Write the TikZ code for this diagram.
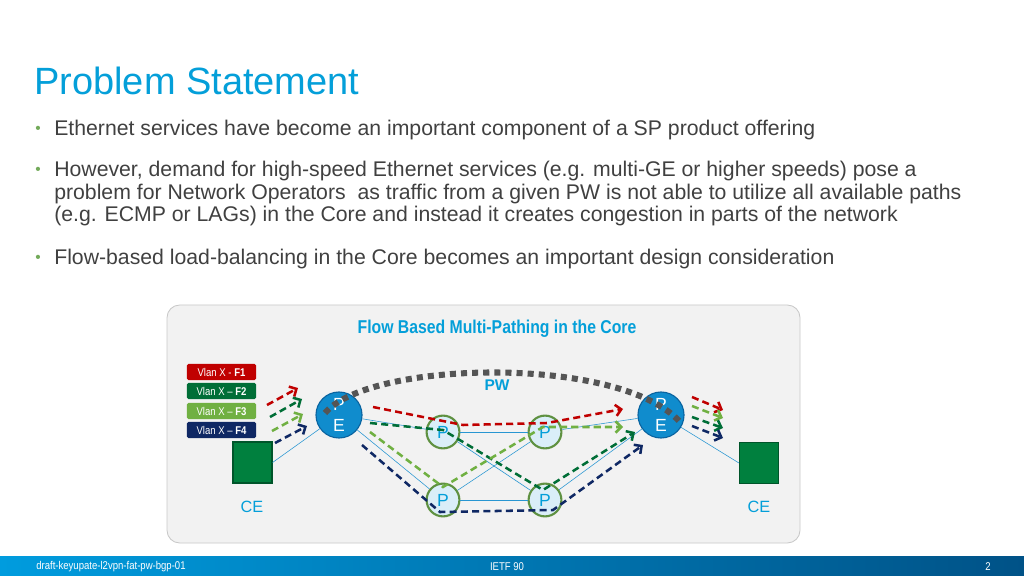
\documentclass[tikz,border=0pt]{standalone}
\usepackage{fontspec}
\setmainfont{Liberation Sans}
\newfontfamily\narrowfont[FakeStretch=0.85]{Liberation Sans}
\usetikzlibrary{arrows.meta}

\definecolor{ciscoblue}{RGB}{4,159,217}
\definecolor{textgray}{RGB}{64,64,64}
\definecolor{bulletgreen}{RGB}{115,170,90}
\definecolor{panelgray}{RGB}{242,242,242}
\definecolor{panelborder}{RGB}{200,200,200}
\definecolor{linkblue}{RGB}{40,150,210}
\definecolor{peblue}{RGB}{16,140,205}
\definecolor{peborder}{RGB}{10,100,160}
\definecolor{plight}{RGB}{218,238,248}
\definecolor{pgreen}{RGB}{95,145,65}
\definecolor{cegreen}{RGB}{0,128,62}
\definecolor{ceborder}{RGB}{0,85,42}
\definecolor{fred}{RGB}{192,0,0}
\definecolor{fdkgreen}{RGB}{0,110,55}
\definecolor{fltgreen}{RGB}{112,176,66}
\definecolor{fnavy}{RGB}{15,40,100}
\definecolor{pwgray}{RGB}{85,85,85}
\definecolor{footleft}{RGB}{0,156,222}
\definecolor{footright}{RGB}{0,82,135}

\begin{document}
\begin{tikzpicture}[x = 0.025cm, y = -0.025cm]
	% Page size, in pixels of the slide
	\useasboundingbox (0,0) rectangle (1024,576);

	% Styles of the slide
	\tikzset{
		bullettext/.style = {anchor = base west, inner sep = 0, text = textgray,
			font = \fontsize{15.1}{15.1}\selectfont},
		bulletdot/.style = {inner sep = 0, text = bulletgreen, font = \fontsize{11}{11}\selectfont},
		pe/.style = {circle, fill = peblue, draw = peborder, line width = 0.8pt, minimum size = 1.15cm,
			inner sep = 0, text = white, align = center, font = \fontsize{12.5}{15}\selectfont},
		pnode/.style = {circle, fill = plight, draw = pgreen, line width = 1.5pt, minimum size = 0.82cm,
			inner sep = 0, text = ciscoblue, font = \fontsize{12.5}{12.5}\selectfont},
		ce/.style = {rectangle, fill = cegreen, draw = ceborder, line width = 0.8pt,
			minimum width = 0.975cm, minimum height = 1.025cm},
		celabel/.style = {text = ciscoblue, font = \fontsize{11.6}{11.6}\selectfont},
		legend/.style = {rectangle, rounded corners = 1pt, minimum width = 1.725cm, minimum height = 0.4cm,
			inner sep = 0, text = white, font = \narrowfont\fontsize{8}{8}\selectfont},
		link/.style = {linkblue, line width = 0.4pt},
		flow/.style = {line width = 1.8pt, dash pattern = on 5pt off 3pt,
			-{Straight Barb[length = 4pt, width = 8pt]}},
		pwline/.style = {pwgray, line width = 4.3pt, dash pattern = on 4.3pt off 3.6pt},
		foot/.style = {inner sep = 0, text = white, font = \narrowfont\fontsize{8}{8}\selectfont}
	}

	% Title and bullets
	\node[anchor = base west, inner sep = 0, text = ciscoblue, font = \fontsize{27}{27}\selectfont]
		(title) at (34,95) {Problem Statement};

	\node[bulletdot] (b1) at (38,130) {•};
	\node[bullettext] (t1) at (54,136) {Ethernet services have become an important component of a SP product offering};
	\node[bulletdot] (b2) at (38,171) {•};
	\node[bullettext] (t2a) at (54,177) {However, demand for high-speed Ethernet services (e.g. multi-GE or higher speeds) pose a};
	\node[bullettext] (t2b) at (54,199.5) {problem for Network Operators \ as traffic from a given PW is not able to utilize all available paths};
	\node[bullettext] (t2c) at (54,222) {(e.g. ECMP or LAGs) in the Core and instead it creates congestion in parts of the network};
	\node[bulletdot] (b3) at (38,259) {•};
	\node[bullettext] (t3) at (54,265) {Flow-based load-balancing in the Core becomes an important design consideration};

	% Grey panel
	\draw[fill = panelgray, draw = panelborder, line width = 0.6pt, rounded corners = 9pt] (167,305) rectangle (800,543);
	\node[text = ciscoblue, font = \narrowfont\bfseries\fontsize{13.2}{13.2}\selectfont] (ptitle) at (497,329)
		{Flow Based Multi-Pathing in the Core};

	% Legend of the flows
	\node[legend, fill = fred] (leg1) at (221.5,372) {Vlan X - \textbf{F1}};
	\node[legend, fill = fdkgreen] (leg2) at (221.5,391) {Vlan X – \textbf{F2}};
	\node[legend, fill = fltgreen] (leg3) at (221.5,411) {Vlan X – \textbf{F3}};
	\node[legend, fill = fnavy] (leg4) at (221.5,430) {Vlan X – \textbf{F4}};

	% Routers
	\node[ce] (cel) at (252.5,462.5) {};
	\node[ce] (cer) at (759,463) {};
	\node[celabel] (cellbl) at (252,507) {CE};
	\node[celabel] (cerlbl) at (759,507) {CE};

	\node[pe] (pel) at (339,415) {P\\E};
	\node[pe] (per) at (661,415) {P\\E};

	\node[pnode] (p1) at (443,432) {P};
	\node[pnode] (p2) at (545,432) {P};
	\node[pnode] (p3) at (443,500) {P};
	\node[pnode] (p4) at (545,500) {P};

	% Links
	\draw[link] (cel.east) -- (pel);
	\draw[link] (pel) -- (p1);
	\draw[link] (pel) -- (p3);
	\draw[link] (p1) -- (p2);
	\draw[link] (p3) -- (p4);
	\draw[link] (p1) -- (p4);
	\draw[link] (p3) -- (p2);
	\draw[link] (p2) -- (per);
	\draw[link] (p4) -- (per);
	\draw[link] (per) -- (cer.west);

	% Flows entering from the left CE
	\draw[flow, fred] ([shift = {(-72,-10)}]pel.center) -- ([shift = {(-41,-27)}]pel.center);
	\draw[flow, fdkgreen] ([shift = {(-69,2)}]pel.center) -- ([shift = {(-37,-16)}]pel.center);
	\draw[flow, fltgreen] ([shift = {(-67,16)}]pel.center) -- ([shift = {(-36,-1)}]pel.center);
	\draw[flow, fnavy] ([shift = {(-64,28)}]pel.center) -- ([shift = {(-32,11)}]pel.center);

	% Flows through the core
	\draw[flow, fred] ([shift = {(34,-8)}]pel.center) -- ([shift = {(20,-7)}]p1.center)
		-- ([shift = {(2,-9)}]p2.center) -- ([shift = {(-38,-6)}]per.center);
	\draw[flow, fdkgreen] ([shift = {(31,8)}]pel.center) -- ([shift = {(0,-2)}]p1.center)
		-- ([shift = {(-2,-10)}]p4.center) -- ([shift = {(-26,17)}]per.center);
	\draw[flow, fltgreen] ([shift = {(31,17)}]pel.center) -- ([shift = {(0,-13)}]p3.center)
		-- ([shift = {(-2,-5)}]p2.center) -- ([shift = {(-38,12)}]per.center);
	\draw[flow, fnavy] ([shift = {(23,30)}]pel.center) -- ([shift = {(-3,12)}]p3.center)
		-- ([shift = {(8,10)}]p4.center) -- ([shift = {(-18,30)}]per.center);

	% Flows leaving to the right CE
	\draw[flow, fred] ([shift = {(31,-18)}]per.center) -- ([shift = {(62,-5)}]per.center);
	\draw[flow, fltgreen] ([shift = {(31,-9)}]per.center) -- ([shift = {(62,3)}]per.center);
	\draw[flow, fdkgreen] ([shift = {(31,2)}]per.center) -- ([shift = {(62,13)}]per.center);
	\draw[flow, fnavy] ([shift = {(31,11)}]per.center) -- ([shift = {(62,23)}]per.center);

	% Pseudowire between the PEs
	\draw[pwline] ([shift = {(-14,-2)}]pel.center) .. controls (370,360) and (620,355)
		.. ([shift = {(19,7)}]per.center);
	\node[text = ciscoblue, font = \bfseries\fontsize{11}{11}\selectfont] (pw) at (497,385) {PW};

	% Footer bar
	\shade[left color = footleft, right color = footright] (0,556) rectangle (1024,576);
	\node[foot, anchor = west] (fdraft) at (36,566.5) {draft-keyupate-l2vpn-fat-pw-bgp-01};
	\node[foot] (fietf) at (507,566.5) {IETF 90};
	\node[foot] (fpage) at (988,566.5) {2};
\end{tikzpicture}
\end{document}
